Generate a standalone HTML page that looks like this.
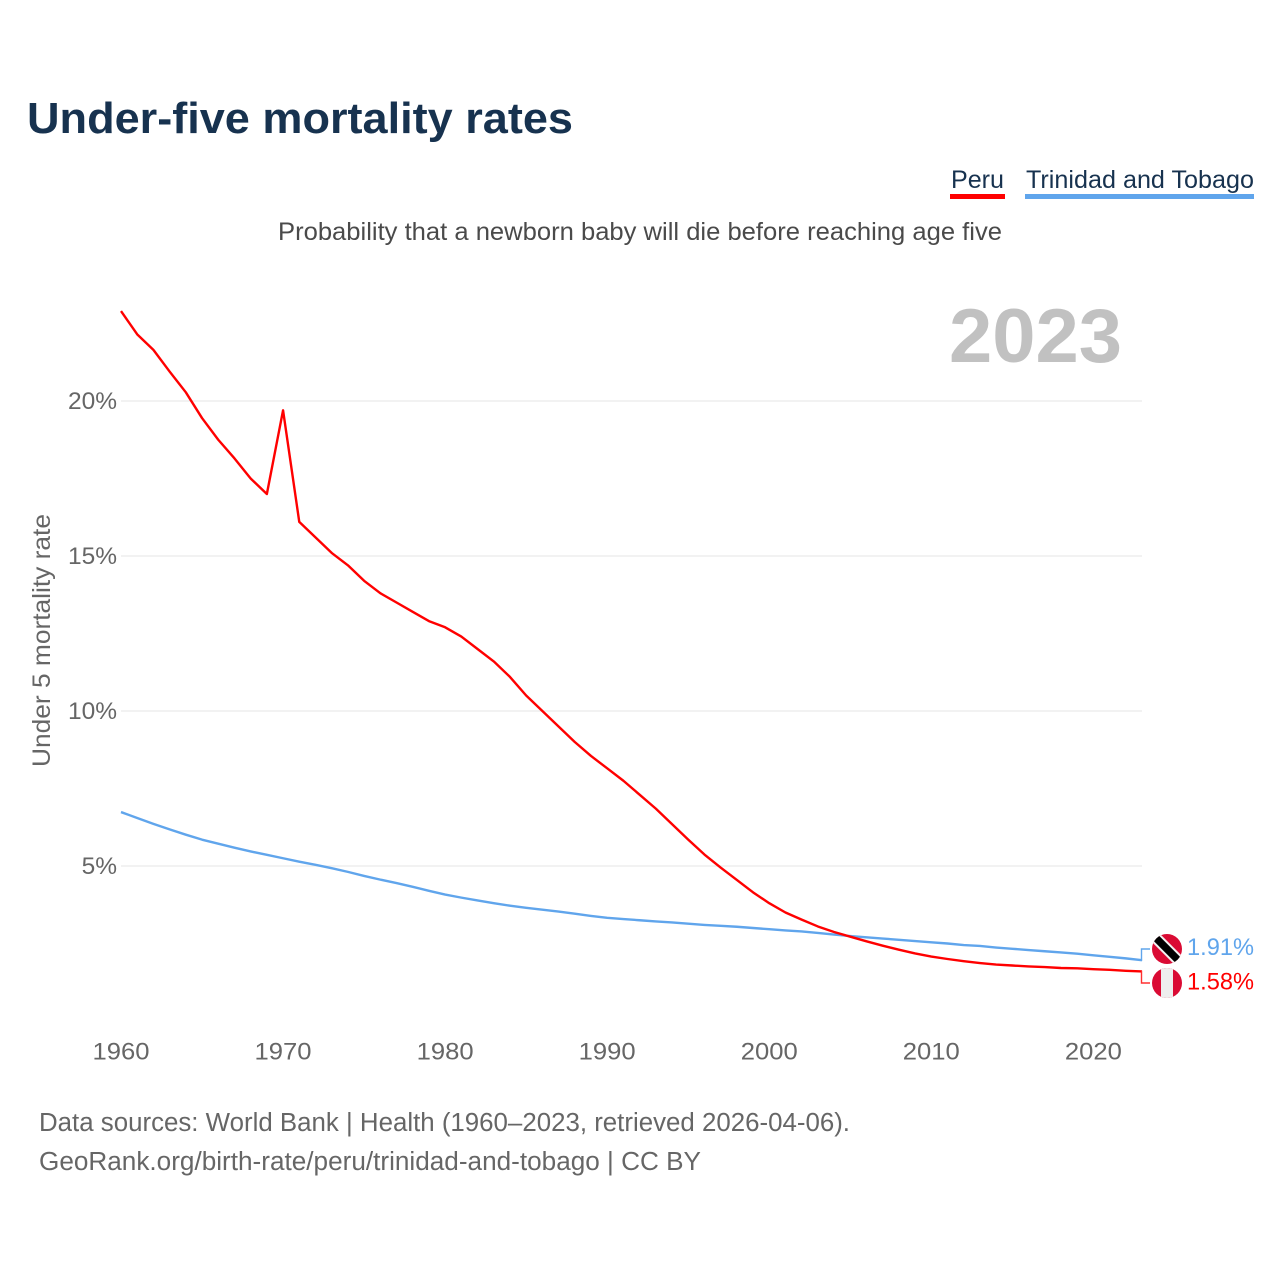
<!DOCTYPE html>
<html lang="en">
<head>
<meta charset="utf-8">
<title>Under-five mortality rates</title>
<style>
html,body{margin:0;padding:0;background:#fff;width:1280px;height:1280px;overflow:hidden}
svg{display:block;font-family:"Liberation Sans",sans-serif}
</style>
</head>
<body>
<svg id="chart" width="1280" height="1280" viewBox="0 0 1280 1280" xmlns="http://www.w3.org/2000/svg">
<rect width="1280" height="1280" fill="#fff"/>
<text x="27" y="133" font-size="44" font-weight="700" fill="#17324f" textLength="546" lengthAdjust="spacingAndGlyphs">Under-five mortality rates</text>
<g>
<g>
<text x="951" y="188" font-size="25" fill="#17324f" textLength="53" lengthAdjust="spacingAndGlyphs">Peru</text>
<rect x="950" y="194" width="55" height="5" fill="#ff0000"/>
</g>
<g>
<text x="1026" y="188" font-size="25" fill="#17324f" textLength="228" lengthAdjust="spacingAndGlyphs">Trinidad and Tobago</text>
<rect x="1025" y="194" width="229" height="5" fill="#60a5ec"/>
</g>
</g>
<text x="278" y="240" font-size="25" fill="#4a4a4a" textLength="724" lengthAdjust="spacingAndGlyphs">Probability that a newborn baby will die before reaching age five</text>
<text x="949" y="362" font-size="76" font-weight="700" fill="#c1c1c1" textLength="173" lengthAdjust="spacingAndGlyphs">2023</text>
<text transform="translate(50,767) rotate(-90)" font-size="25" fill="#666" textLength="253" lengthAdjust="spacingAndGlyphs">Under 5 mortality rate</text>
<g id="grid"></g>
<g id="ylabels"></g>
<g id="xlabels"></g>
<g id="series"></g>
<g id="ends"></g>
<g>
<text x="39" y="1131" font-size="25.5" fill="#666" textLength="811" lengthAdjust="spacingAndGlyphs">Data sources: World Bank | Health (1960–2023, retrieved 2026-04-06).</text>
<text x="39" y="1170" font-size="25.5" fill="#666" textLength="662" lengthAdjust="spacingAndGlyphs">GeoRank.org/birth-rate/peru/trinidad-and-tobago | CC BY</text>
</g>
</svg>
<script>
const years = [1960,1961,1962,1963,1964,1965,1966,1967,1968,1969,1970,1971,1972,1973,1974,1975,1976,1977,1978,1979,1980,1981,1982,1983,1984,1985,1986,1987,1988,1989,1990,1991,1992,1993,1994,1995,1996,1997,1998,1999,2000,2001,2002,2003,2004,2005,2006,2007,2008,2009,2010,2011,2012,2013,2014,2015,2016,2017,2018,2019,2020,2021,2022,2023];
const peruValues = [22.9,22.15,21.65,20.95,20.28,19.45,18.75,18.15,17.5,17.0,19.7,16.1,15.6,15.1,14.7,14.2,13.8,13.5,13.2,12.9,12.7,12.4,12.0,11.6,11.1,10.5,10.0,9.5,9.0,8.55,8.15,7.75,7.3,6.85,6.35,5.85,5.37,4.95,4.55,4.15,3.8,3.5,3.27,3.05,2.87,2.72,2.57,2.43,2.3,2.18,2.08,2.0,1.93,1.87,1.82,1.79,1.76,1.74,1.71,1.7,1.67,1.65,1.62,1.6];
const tobagoValues = [6.74,6.55,6.36,6.18,6.01,5.85,5.72,5.59,5.47,5.36,5.25,5.14,5.04,4.93,4.81,4.68,4.56,4.45,4.33,4.2,4.08,3.98,3.89,3.8,3.72,3.65,3.59,3.53,3.46,3.39,3.33,3.29,3.25,3.21,3.18,3.14,3.1,3.07,3.04,3.0,2.96,2.92,2.89,2.84,2.79,2.74,2.7,2.66,2.62,2.58,2.54,2.5,2.45,2.42,2.37,2.33,2.29,2.25,2.21,2.17,2.12,2.07,2.02,1.96];
const yTickValues = [5,10,15,20];
const xTickValues = [1960,1970,1980,1990,2000,2010,2020];
const peruLabel = "1.58%";
const tobagoLabel = "1.91%";

const NS = "http://www.w3.org/2000/svg";
function xScale(year){ return 121 + (year - 1960) * (1142 - 121) / 63; }
function yScale(v){ return 1021 - v * 31; }
function make(tag, attrs, parent, text){
  const el = document.createElementNS(NS, tag);
  for (const k in attrs) el.setAttribute(k, attrs[k]);
  if (text !== undefined) el.textContent = text;
  parent.appendChild(el);
  return el;
}
const grid = document.getElementById("grid");
const ylabels = document.getElementById("ylabels");
const xlabels = document.getElementById("xlabels");
const series = document.getElementById("series");
const ends = document.getElementById("ends");

yTickValues.forEach(function(v){
  const line = make("line", {x1:121, x2:1142, y1:yScale(v), y2:yScale(v), stroke:"#eeeeee", "stroke-width":1.5}, grid);
  
  
  const label = make("text", {x:117, y:yScale(v)+8, "font-size":24.5, fill:"#666", "text-anchor":"end"}, ylabels, v + "%");
  
  
});
xTickValues.forEach(function(y){
  const label = make("text", {x:xScale(y)-28.5, y:1059.5, "font-size":24.5, fill:"#666", textLength:57, lengthAdjust:"spacingAndGlyphs"}, xlabels, String(y));
  
  
});
function linePath(values){
  return values.map(function(v,i){ return (i ? "L" : "M") + xScale(years[i]).toFixed(2) + " " + yScale(v).toFixed(2); }).join(" ");
}
const tobagoLine = make("path", {d:linePath(tobagoValues), fill:"none", stroke:"#60a5ec", "stroke-width":2.4, "stroke-linejoin":"round"}, series);


const peruLine = make("path", {d:linePath(peruValues), fill:"none", stroke:"#ff0000", "stroke-width":2.4, "stroke-linejoin":"round"}, series);



const lastTobagoY = yScale(tobagoValues[tobagoValues.length-1]);
const lastPeruY = yScale(peruValues[peruValues.length-1]);
const tobagoLeader = make("path", {d:"M1141 "+lastTobagoY+" H1141.5 V949 H1150", fill:"none", stroke:"#60a5ec", "stroke-width":1.4}, ends);


const peruLeader = make("path", {d:"M1141 "+lastPeruY+" H1141.5 V983 H1150", fill:"none", stroke:"#ff3030", "stroke-width":1.4}, ends);



const tobagoEnd = make("text", {x:1187, y:955, "font-size":24.5, fill:"#60a5ec", textLength:67, lengthAdjust:"spacingAndGlyphs"}, ends, tobagoLabel);


const peruEnd = make("text", {x:1187, y:989.5, "font-size":24.5, fill:"#ff0000", textLength:67, lengthAdjust:"spacingAndGlyphs"}, ends, peruLabel);



const defs = make("defs", {}, ends);
const clipA = make("clipPath", {id:"clip-tt"}, defs);
make("circle", {cx:1167, cy:949, r:15}, clipA);
const clipB = make("clipPath", {id:"clip-pe"}, defs);
make("circle", {cx:1167, cy:983, r:15}, clipB);

const flagTT = make("g", {"clip-path":"url(#clip-tt)"}, ends);


make("rect", {x:1152, y:934, width:30, height:30, fill:"#da0b34"}, flagTT);
make("line", {x1:1152, y1:934, x2:1182, y2:964, stroke:"#f2f2f2", "stroke-width":11.5}, flagTT);
make("line", {x1:1152, y1:934, x2:1182, y2:964, stroke:"#000", "stroke-width":7.5}, flagTT);

const flagPE = make("g", {"clip-path":"url(#clip-pe)"}, ends);


make("rect", {x:1152, y:968, width:30, height:30, fill:"#da0b34"}, flagPE);
make("rect", {x:1161, y:968, width:12, height:30, fill:"#eeeeee"}, flagPE);
</script>
</body>
</html>
